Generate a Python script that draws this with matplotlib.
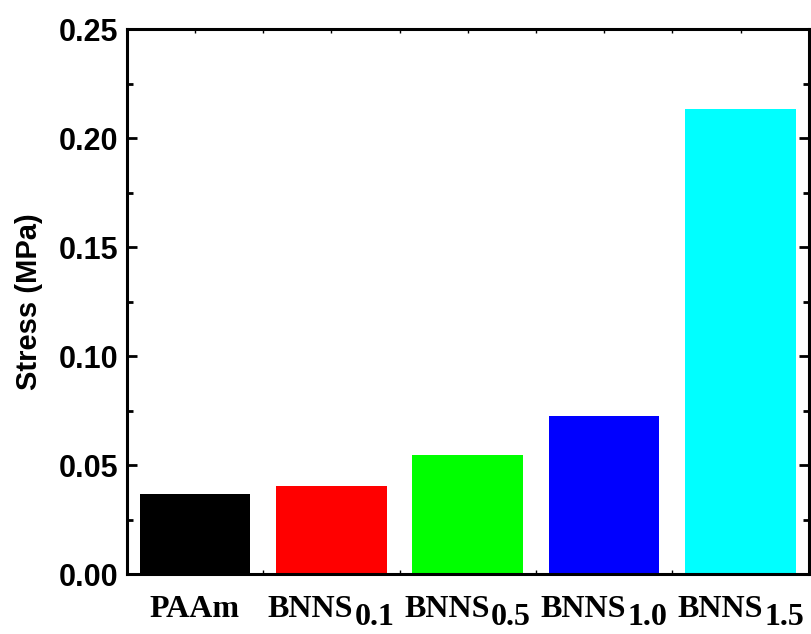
import matplotlib
matplotlib.use('Agg')
import matplotlib.pyplot as plt
from matplotlib.offsetbox import TextArea, HPacker, VPacker, DrawingArea, AnnotationBbox

names = ['PAAm', 'BNNS', 'BNNS', 'BNNS', 'BNNS']
subs = ['', '0.1', '0.5', '1.0', '1.5']
stress = [0.0367, 0.0404, 0.0546, 0.0725, 0.2133]
colors = ['#000000', '#ff0000', '#00ff00', '#0000ff', '#00ffff']

plt.rcParams['font.family'] = 'Liberation Sans'
plt.rcParams['font.weight'] = 'bold'

fig = plt.figure(figsize=(8.12, 6.34), dpi=100)
ax = fig.add_axes([0.156, 0.0946, 0.84, 0.8596])

x = list(range(len(names)))
ax.bar(x, stress, width=0.81, color=colors, zorder=2)

ax.set_xlim(-0.5, 4.5)
ax.set_ylim(0, 0.25)
ax.set_yticks([0, 0.05, 0.10, 0.15, 0.20, 0.25])
ax.set_yticklabels(['0.00', '0.05', '0.10', '0.15', '0.20', '0.25'])
ax.set_yticks([0.025, 0.075, 0.125, 0.175, 0.225], minor=True)
ax.set_xticks(x)
ax.set_xticks([0.5, 1.5, 2.5, 3.5], minor=True)
ax.set_xticklabels([''] * len(x))

for s in ax.spines.values():
    s.set_linewidth(2.2)

ax.tick_params(axis='y', which='major', direction='in', length=7, width=2,
               labelsize=22, right=True, pad=6)
ax.tick_params(axis='y', which='minor', direction='in', length=4, width=2, right=True)
ax.tick_params(axis='x', which='both', direction='in', length=3, width=1, top=True)

ax.set_ylabel('Stress (MPa)', fontsize=21, fontweight='bold', labelpad=11)

# category labels with large Origin-style subscripts
lab_font = dict(family='Liberation Serif', fontweight='bold', fontsize=23)
for i in x:
    parts = [TextArea(names[i], textprops=lab_font)]
    if subs[i]:
        sub = TextArea(subs[i], textprops=lab_font)
        parts.append(VPacker(children=[DrawingArea(1, 6), sub], pad=0, sep=0, align='left'))
    box = HPacker(children=parts, align='top', pad=0, sep=1)
    ab = AnnotationBbox(box, (i, 0), xycoords=('data', 'axes fraction'),
                        xybox=(0, -15), boxcoords='offset points',
                        box_alignment=(0.5, 1), frameon=False, pad=0)
    ax.add_artist(ab)

fig.savefig('out.png', dpi=100)
